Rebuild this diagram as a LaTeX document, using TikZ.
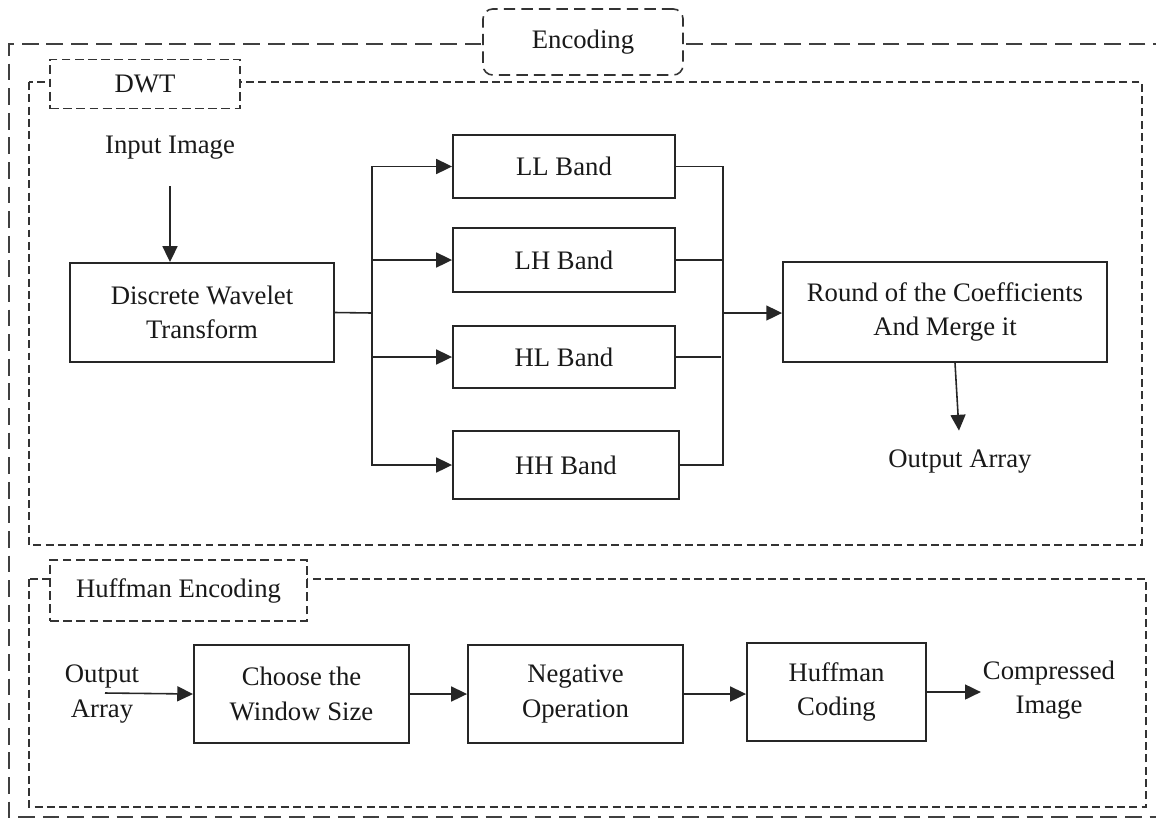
\documentclass[tikz,border=0pt]{standalone}
\usepackage{fontspec}
\setmainfont{Liberation Serif}
\usetikzlibrary{arrows.meta,calc}
\begin{document}
\begin{tikzpicture}[x=0.02cm,y=-0.02cm,
  font=\fontsize{15.2pt}{19.5pt}\selectfont,
  every node/.style={text=black!90},
  box/.style={draw=black!85, line width=1.1pt, fill=white, align=center, inner sep=0pt},
  txt/.style={align=center, inner sep=1pt},
  arr/.style={draw=black!85, line width=0.9pt, -{Triangle[length=9pt,width=8.5pt]}},
  ln/.style={draw=black!85, line width=0.9pt},
  outerdash/.style={draw=black!75, line width=0.9pt, dash pattern=on 9.5pt off 4.5pt},
  framedash/.style={draw=black!80, line width=0.9pt, dash pattern=on 4.5pt off 2.5pt},
  tagdash/.style={draw=black!80, line width=0.9pt, dash pattern=on 5pt off 2.5pt, fill=white, inner sep=0pt}
]
\clip (0,0) rectangle (1156,819);
\fill[white] (0,0) rectangle (1156,819);

% frames
\draw[outerdash] (1170,44) -- (9,44) -- (9,817) -- (1170,817);
\draw[framedash] (29,82) rectangle (1142,545);
\draw[framedash] (29,579) rectangle (1146,807);

% tags
\node[tagdash, rounded corners=5.5pt, dash pattern=on 6.5pt off 3.5pt, minimum width=4cm, minimum height=1.32cm] (enc) at (583,42) {Encoding};
\node[tagdash, minimum width=3.8cm, minimum height=0.98cm] (dwtl) at (145,84) {DWT};
\node[tagdash, minimum width=5.14cm, minimum height=1.22cm] (hufl) at (178.5,590.5) {Huffman Encoding};

% DWT part
\node[txt] (inimg) at (170,148) {Input Image};
\node[box, minimum width=5.28cm, minimum height=1.98cm] (dwt) at (202,312.5) {Discrete Wavelet\\Transform};
\node[box, minimum width=4.44cm, minimum height=1.26cm] (ll) at (564,166.5) {LL Band};
\node[box, minimum width=4.44cm, minimum height=1.28cm] (lh) at (564,260) {LH Band};
\node[box, minimum width=4.44cm, minimum height=1.24cm] (hl) at (564,357) {HL Band};
\node[box, minimum width=4.52cm, minimum height=1.36cm] (hh) at (566,465) {HH Band};
\node[box, minimum width=6.48cm, minimum height=2.0cm] (rnd) at (945,312) {Round of the Coefficients\\And Merge it};
\node[txt] (oarr) at (960,462) {Output Array};

\coordinate (sp) at (372,313);
\coordinate (mg) at (723,313);

\draw[arr, shorten <=14pt] (inimg.south) -- (inimg.south |- dwt.north);
\draw[ln] (dwt.east) -- (sp);
\draw[arr] (sp) |- (ll.west);
\draw[arr] (sp) |- (lh.west);
\draw[arr] (sp) |- (hl.west);
\draw[arr] (sp) |- (hh.west);
\draw[ln] (ll.east) -| (mg);
\draw[ln] (lh.east) -| (mg);
\draw[ln] (hh.east) -| (mg);
\draw[ln] (hl.east) -- ++(45,0);
\draw[arr] (mg) -- (mg -| rnd.west);
\draw[arr, shorten >=10pt] ($(rnd.south)+(10,0)$) -- (oarr.north);

% Huffman part
\node[txt] (oarr2) at (102,694) {Output\\Array};
\node[box, minimum width=4.3cm, minimum height=1.96cm] (win) at (301.5,694) {Choose the\\Window Size};
\node[box, minimum width=4.3cm, minimum height=1.96cm] (neg) at (575.5,694) {Negative\\Operation};
\node[box, minimum width=3.58cm, minimum height=1.96cm] (huf) at (836.5,692) {Huffman\\Coding};
\node[txt] (cimg) at (1049,690) {Compressed\\Image};

\draw[arr] ($(oarr2.center)+(3,-1)$) -- (win.west);
\draw[arr] (win) -- (neg);
\draw[arr] (neg.east) -- (neg.east -| huf.west);
\draw[arr] (huf.east) -- (cimg.west |- huf.east);
\end{tikzpicture}
\end{document}
